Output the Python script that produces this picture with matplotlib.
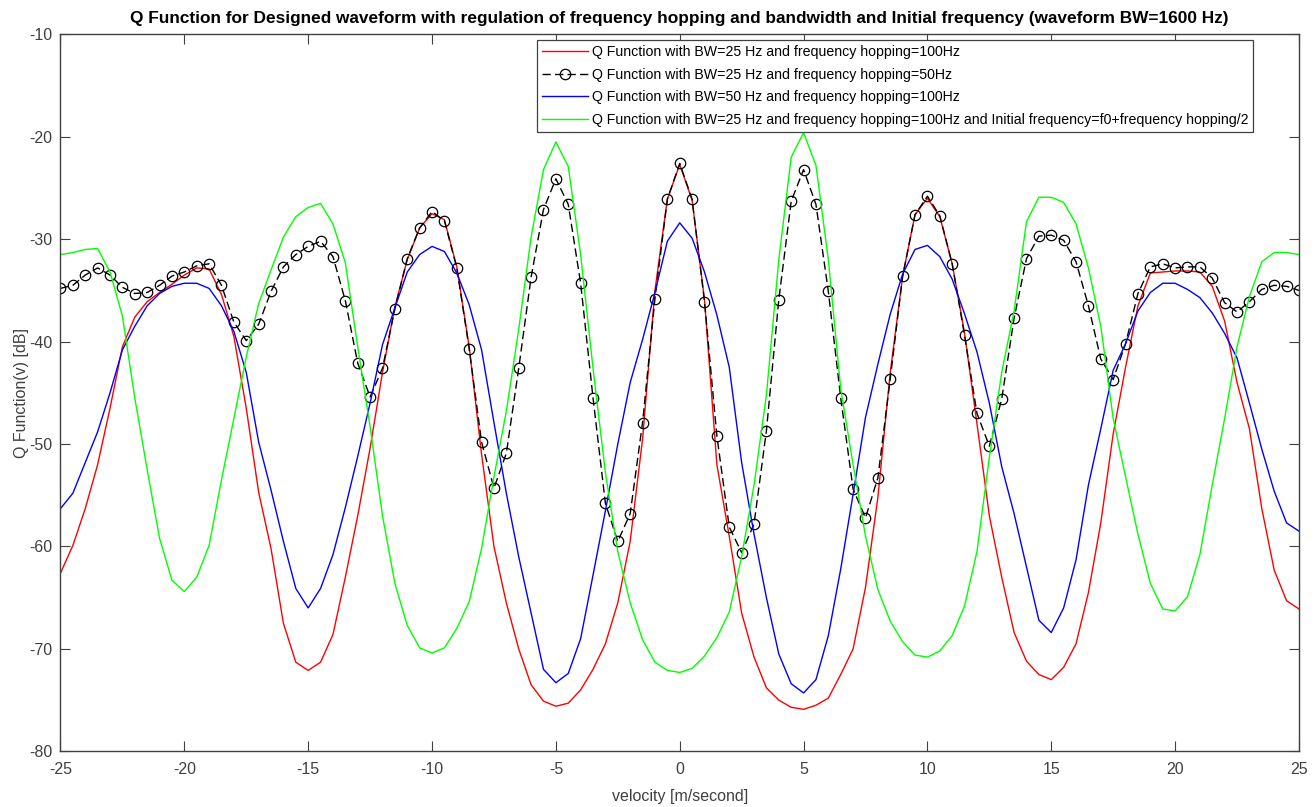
import numpy as np
import matplotlib
matplotlib.use("Agg")
import matplotlib.pyplot as plt

# velocity grid [m/s]
velocity = np.arange(-25, 25.01, 0.5)

# BW=25 Hz, hopping=100 Hz
q_bw25_hop100 = [
    -62.6, -59.9, -56.3, -52.0, -46.5, -40.5, -37.6, -36.1, -35.2, -34.4,
    -33.5, -32.8, -32.9, -35.4, -39.5, -46.5, -54.7, -60.2, -67.5, -71.3,
    -72.1, -71.3, -68.6, -63.0, -57.0, -50.4, -43.0, -36.6, -32.0, -28.9,
    -27.5, -28.1, -32.7, -40.5, -51.0, -60.0, -65.5, -70.0, -73.5, -75.1,
    -75.6, -75.3, -74.0, -72.0, -69.5, -65.5, -59.5, -49.5, -35.0, -26.1,
    -22.7, -26.2, -35.9, -52.0, -59.0, -66.5, -70.8, -73.8, -75.0, -75.7,
    -75.9, -75.5, -74.8, -72.5, -70.0, -64.0, -55.2, -43.0, -33.6, -27.6,
    -26.0, -27.8, -32.4, -39.2, -48.0, -57.0, -63.0, -68.4, -71.2, -72.5,
    -73.0, -71.8, -69.5, -64.5, -57.7, -49.0, -42.5, -36.5, -33.3, -33.2,
    -33.1, -33.1, -33.2, -34.6, -38.0, -44.0, -48.5, -56.3, -62.3, -65.3,
    -66.1,
]

# BW=25 Hz, hopping=50 Hz
q_bw25_hop50 = [
    -34.8, -34.5, -33.5, -32.8, -33.5, -34.7, -35.3, -35.2, -34.5, -33.6,
    -33.2, -32.6, -32.4, -34.5, -38.1, -39.9, -38.3, -35.1, -32.7, -31.5,
    -30.7, -30.2, -31.7, -36.0, -42.1, -45.4, -42.6, -36.8, -31.9, -28.9,
    -27.3, -28.2, -32.8, -40.7, -49.8, -54.3, -50.9, -42.6, -33.7, -27.1,
    -24.1, -26.6, -34.3, -45.5, -55.8, -59.5, -56.8, -47.9, -35.8, -26.1,
    -22.6, -26.1, -36.1, -49.2, -58.1, -60.6, -57.8, -48.7, -35.9, -26.3,
    -23.2, -26.6, -35.1, -45.5, -54.4, -57.2, -53.3, -43.6, -33.6, -27.6,
    -25.8, -27.7, -32.4, -39.4, -47.0, -50.2, -45.6, -37.7, -31.9, -29.7,
    -29.6, -30.1, -32.2, -36.5, -41.7, -43.7, -40.2, -35.3, -32.7, -32.4,
    -32.8, -32.7, -32.7, -33.8, -36.2, -37.1, -36.1, -34.9, -34.5, -34.6,
    -35.0,
]

# BW=50 Hz, hopping=100 Hz
q_bw50_hop100 = [
    -56.3, -54.8, -51.8, -48.8, -45.0, -40.8, -38.5, -36.5, -35.3, -34.6,
    -34.3, -34.3, -34.8, -36.5, -39.0, -43.0, -49.8, -54.5, -59.5, -64.1,
    -66.0, -64.1, -60.8, -56.2, -51.2, -46.0, -40.3, -36.7, -33.2, -31.5,
    -30.7, -31.2, -33.3, -36.4, -40.8, -47.9, -54.8, -61.0, -66.5, -72.0,
    -73.3, -72.4, -69.0, -62.8, -56.5, -50.0, -44.0, -39.8, -35.2, -30.2,
    -28.4, -29.9, -33.2, -37.4, -42.5, -51.8, -58.8, -65.0, -70.5, -73.4,
    -74.3, -73.0, -68.7, -62.2, -54.9, -47.4, -42.2, -37.3, -33.4, -31.0,
    -30.6, -31.7, -33.9, -37.3, -41.0, -46.0, -52.2, -56.8, -62.0, -67.2,
    -68.4, -66.0, -61.3, -54.0, -48.5, -42.8, -40.2, -37.0, -35.2, -34.3,
    -34.3, -34.9, -35.7, -37.2, -39.2, -41.6, -46.0, -50.5, -54.6, -57.7,
    -58.5,
]

# BW=25 Hz, hopping=100 Hz, initial frequency f0 + hopping/2
q_bw25_hop100_shift = [
    -31.5, -31.3, -31.0, -30.9, -33.2, -37.5, -45.5, -52.5, -59.2, -63.3,
    -64.4, -63.0, -59.9, -53.5, -47.5, -41.5, -36.3, -33.0, -29.8, -27.8,
    -26.9, -26.5, -28.5, -32.3, -40.5, -48.3, -57.0, -63.6, -67.7, -69.9,
    -70.4, -69.9, -68.0, -65.4, -60.2, -53.2, -46.8, -38.8, -29.8, -23.2,
    -20.5, -22.9, -31.5, -42.6, -52.8, -60.5, -65.5, -69.1, -71.3, -72.1,
    -72.3, -71.9, -70.7, -68.9, -66.4, -61.0, -54.0, -45.2, -32.0, -22.0,
    -19.6, -22.8, -32.0, -44.6, -52.0, -59.0, -64.2, -67.3, -69.3, -70.6,
    -70.8, -70.2, -68.7, -65.8, -60.5, -51.3, -43.0, -37.0, -28.3, -25.9,
    -25.9, -26.4, -28.5, -32.8, -38.5, -47.5, -53.2, -58.8, -63.6, -66.1,
    -66.3, -64.9, -60.8, -54.0, -47.5, -40.5, -35.6, -32.2, -31.3, -31.3,
    -31.5,
]

legend_labels = [
    "Q Function with BW=25 Hz and frequency hopping=100Hz",
    "Q Function with BW=25 Hz and frequency hopping=50Hz",
    "Q Function with BW=50 Hz and frequency hopping=100Hz",
    "Q Function with BW=25 Hz and frequency hopping=100Hz and Initial frequency=f0+frequency hopping/2",
]

title_text = ("Q Function for Designed waveform with regulation of frequency hopping "
              "and bandwidth and Initial frequency (waveform BW=1600 Hz)")
x_ticks = np.arange(-25, 26, 5)
y_ticks = np.arange(-80, -9, 10)

plt.rcParams["font.family"] = ["Liberation Sans", "DejaVu Sans"]
plt.rcParams["axes.unicode_minus"] = False
axis_grey = "#404040"

fig = plt.figure(figsize=(13.15, 8.07), dpi=100)
ax = fig.add_axes([0.0460, 0.0690, 0.9418, 0.8884])

ax.plot(velocity, q_bw25_hop100, color="#ff0000", lw=1.0, label=legend_labels[0])
ax.plot(velocity, q_bw25_hop50, color="black", lw=1.0, ls=(0, (6, 3)),
        marker="o", markersize=7.5, markerfacecolor="none",
        markeredgecolor="black", markeredgewidth=0.9, label=legend_labels[1])
ax.plot(velocity, q_bw50_hop100, color="#0000ff", lw=1.0, label=legend_labels[2])
ax.plot(velocity, q_bw25_hop100_shift, color="#00ff00", lw=1.0, label=legend_labels[3])

ax.set_xlim(-25, 25)
ax.set_ylim(-80, -10)
ax.set_xticks(x_ticks)
ax.set_yticks(y_ticks)
ax.tick_params(direction="in", length=7, width=0.8, color=axis_grey,
               labelcolor=axis_grey, labelsize=11.5, top=True, right=True,
               labeltop=False, labelright=False)
ax.tick_params(axis="x", pad=8)
ax.tick_params(axis="y", pad=6)
for sp in ax.spines.values():
    sp.set_color(axis_grey)
    sp.set_linewidth(1.0)

ax.set_xlabel("velocity [m/second]", fontsize=11.5, color=axis_grey, labelpad=8)
ax.set_ylabel("Q Function(v) [dB]", fontsize=11.5, color=axis_grey, labelpad=0)
ax.set_title(title_text, fontsize=12.4, fontweight="bold", pad=8)

leg = ax.legend(loc="upper left", bbox_to_anchor=(0.3846, 0.9923), fontsize=10.15,
                handlelength=3.3, handletextpad=0.24, labelspacing=0.62,
                borderpad=0.35, borderaxespad=0.0, fancybox=False,
                framealpha=1.0, edgecolor=axis_grey)
leg.get_frame().set_linewidth(0.9)

fig.savefig("out.png", dpi=100)
